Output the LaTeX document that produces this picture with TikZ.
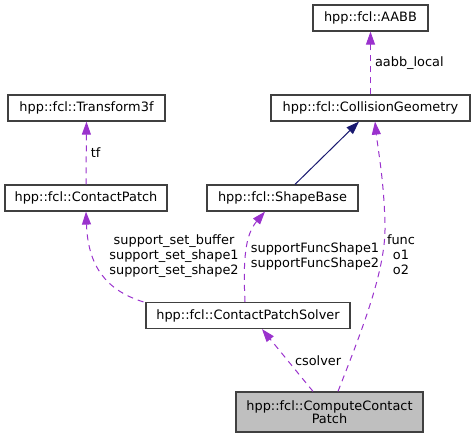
\documentclass[tikz,border=0pt]{standalone}
\usepackage{fontspec}
\setmainfont{DejaVu Sans}
\usetikzlibrary{arrows.meta}
\definecolor{usecol}{HTML}{9A32CD}
\definecolor{inhcol}{HTML}{191970}
\definecolor{boxcol}{HTML}{404040}
\definecolor{maincol}{HTML}{BFBFBF}
\begin{document}
\begin{tikzpicture}[x=1pt,y=-1pt,
  cls/.style={draw=boxcol,line width=1.2pt,inner sep=0pt,minimum height=26pt,
    font=\fontsize{12.9}{13.3}\selectfont,align=center},
  uses/.style={draw=usecol,line width=1pt,dash pattern=on 6pt off 5pt,
    -{Triangle[length=13pt,width=9pt,fill=usecol]}},
  inherits/.style={draw=inhcol,line width=1pt,
    -{Triangle[length=13pt,width=9pt,fill=inhcol]}},
  lbl/.style={font=\fontsize{12.9}{15}\selectfont,align=center,inner sep=2pt}]
\useasboundingbox (0,0) rectangle (475,439);
\node[cls,minimum width=115pt] (aabb) at (370.5,18) {hpp::fcl::AABB};
\node[cls,minimum width=199pt] (cg) at (370.5,108) {hpp::fcl::CollisionGeometry};
\node[cls,minimum width=157pt] (tf) at (86.5,108) {hpp::fcl::Transform3f};
\node[cls,minimum width=162pt] (cp) at (86,198) {hpp::fcl::ContactPatch};
\node[cls,minimum width=151pt] (sb) at (282.5,198) {hpp::fcl::ShapeBase};
\node[cls,minimum width=204pt] (cps) at (248,315.5) {hpp::fcl::ContactPatchSolver};
\node[cls,minimum width=187pt,minimum height=40pt,fill=maincol] (ccp) at (329.5,412)
  {hpp::fcl::ComputeContact\\Patch};
\draw[uses] (cg.north) -- node[lbl,right,xshift=2pt] {aabb\_local} (aabb.south);
\draw[uses] (cp.north) -- node[lbl,right,xshift=2pt] {tf} (tf.south);
\draw[inherits] ([xshift=12.5pt]sb.north) -- ([xshift=-11.5pt]cg.south);
\draw[uses] ([xshift=8.5pt]ccp.north) .. controls (362,330) and (386,270) .. (385,225)
  .. controls (384,180) and (378,150) .. ([xshift=4.5pt]cg.south);
\node[lbl] (l_func) at (401,255) {func\\o1\\o2};
\draw[uses] ([xshift=-2pt]cps.north west) .. controls (105,290) and (88,265) .. (cp.south);
\node[lbl] (l_sup) at (174,256) {support\_set\_buffer\\support\_set\_shape1\\support\_set\_shape2};
\draw[uses] ([xshift=-3pt]cps.north) .. controls (243,260) and (245,235) .. ([xshift=-17.5pt]sb.south);
\node[lbl] (l_fn) at (315,256) {supportFuncShape1\\supportFuncShape2};
\draw[uses] ([xshift=-16.5pt]ccp.north) -- node[lbl,right,xshift=5pt] {csolver} ([xshift=14pt]cps.south);
\end{tikzpicture}
\end{document}
